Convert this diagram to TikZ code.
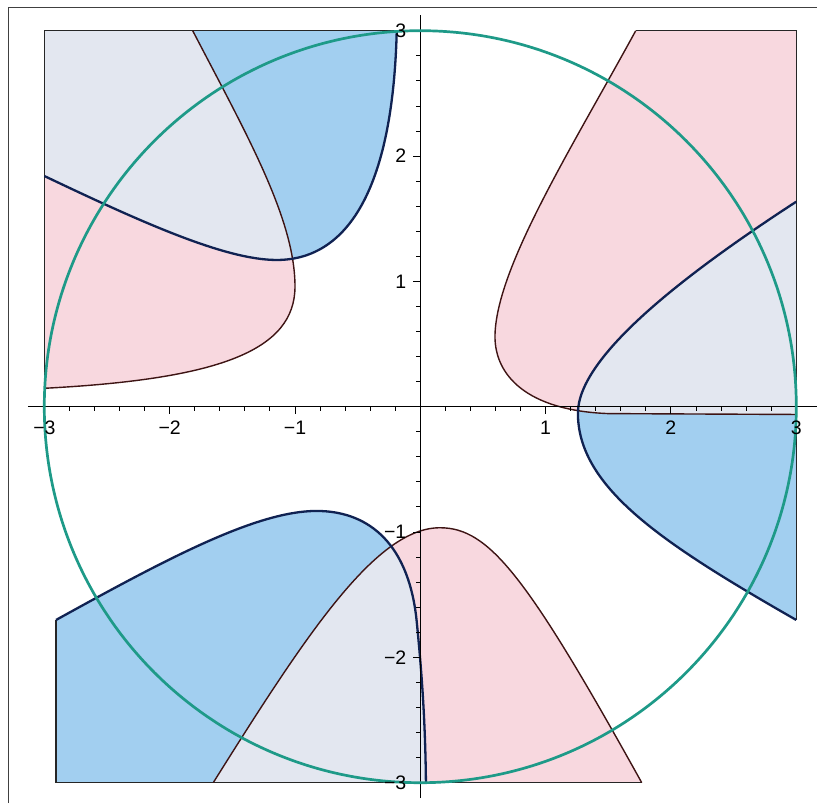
\documentclass[tikz,border=0pt]{standalone}
\usepackage{fontspec}
\setmainfont{Liberation Sans}
\definecolor{pinkfill}{HTML}{F8D8DF}
\definecolor{bluefill}{HTML}{A2CFF0}
\definecolor{greyfill}{HTML}{E3E7F0}
\definecolor{pinkline}{HTML}{3E1414}
\definecolor{blueline}{HTML}{102252}
\definecolor{circ}{HTML}{1E9A88}
\newcommand\PinkTL{(-1.816,3) .. controls (-1.39,2.18) and (-1.0,1.5) .. (-1.0,0.96) .. controls (-1.0,0.45) and (-1.6,0.22) .. (-3,0.147)}
\newcommand\BlueTL{(-3,1.841) .. controls (-2.2,1.46) and (-1.55,1.171) .. (-1.146,1.171) .. controls (-0.6,1.171) and (-0.22,1.7) .. (-0.188,3)}
\newcommand\PinkQ{(1.719,3) .. controls (1.2,2.05) and (0.6,1.1) .. (0.596,0.56) .. controls (0.596,0.25) and (0.85,-0.03) .. (1.5,-0.055) -- (3,-0.062)}
\newcommand\BlueQ{(3,1.636) .. controls (2.1,1.05) and (1.26,0.4) .. (1.258,-0.05) .. controls (1.256,-0.65) and (1.95,-1.1) .. (3,-1.702)}
\newcommand\PinkB{(-1.652,-3) .. controls (-0.9,-1.8) and (-0.35,-0.966) .. (0.157,-0.966) .. controls (0.55,-0.966) and (0.85,-1.35) .. (1.767,-3)}
\newcommand\BlueB{(-2.907,-1.702) .. controls (-2.0,-1.2) and (-1.3,-0.832) .. (-0.827,-0.832) .. controls (-0.45,-0.832) and (-0.1,-1.05) .. (-0.03,-1.7) .. controls (0.01,-2.1) and (0.04,-2.5) .. (0.045,-3)}
\begin{document}
\begin{tikzpicture}[x=125.3pt,y=125.3pt,
  pinkedge/.style={draw=pinkline,line width=1.4pt},
  blueedge/.style={draw=blueline,line width=2.3pt},
  boxedge/.style={draw=black!85,line width=1.1pt},
  axisline/.style={draw=black,line width=1.4pt},
  ticklabel/.style={font=\fontsize{19.5}{19.5}\selectfont,inner sep=0pt}]
\useasboundingbox (-3.3543,-3.1628) rectangle (3.1660,3.2458);
% outer frame
\draw[line width=1pt,black!75] (-3.2825,-3.1628) -- (-3.2825,3.182) -- (3.166,3.182);
% ---------- top-left ----------
\fill[pinkfill] \PinkTL -- (-3,3) -- cycle;
\fill[bluefill] \BlueTL -- (-3,3) -- cycle;
\begin{scope}
  \clip \PinkTL -- (-3,3) -- cycle;
  \fill[greyfill] \BlueTL -- (-3,3) -- cycle;
\end{scope}
% ---------- first quadrant ----------
\fill[pinkfill] \PinkQ -- (3,3) -- cycle;
\fill[bluefill] \BlueQ -- cycle;
\begin{scope}
  \clip \PinkQ -- (3,3) -- cycle;
  \fill[greyfill] \BlueQ -- cycle;
\end{scope}
% ---------- bottom ----------
\fill[pinkfill] \PinkB -- cycle;
\fill[bluefill] \BlueB -- (-2.907,-3) -- cycle;
\begin{scope}
  \clip \PinkB -- cycle;
  \fill[greyfill] \BlueB -- (-2.907,-3) -- cycle;
\end{scope}
% box edges
\draw[boxedge] (-3,0.147) -- (-3,3) -- (-0.188,3);
\draw[boxedge] (1.719,3) -- (3,3) -- (3,-1.702);
\draw[boxedge] (-2.907,-1.702) -- (-2.907,-3) -- (1.767,-3);
% curves
\draw[pinkedge] \PinkTL;
\draw[pinkedge] \PinkQ;
\draw[pinkedge] \PinkB;
\draw[blueedge] \BlueTL;
\draw[blueedge] \BlueQ;
\draw[blueedge] \BlueB;
% axes
\coordinate (xl) at (-3.132,0);
\coordinate (xr) at (3.166,0);
\coordinate (yb) at (0,-3.123);
\coordinate (yt) at (0,3.126);
\draw[axisline] (xl) -- (xr);
\draw[axisline] (yb) -- (yt);
\foreach \k in {-15,...,15}{
  \draw[line width=0.9pt] (\k/5,0) -- (\k/5,-0.032);
  \draw[line width=0.9pt] (0,\k/5) -- (-0.032,\k/5);
}
\foreach \k in {-3,-2,-1,1,2,3}{
  \draw[line width=0.9pt] (\k,0) -- (\k,-0.058);
  \draw[line width=0.9pt] (0,\k) -- (-0.058,\k);
}
% circle
\node[circle,draw=circ,line width=2.7pt,minimum size=752pt,inner sep=0pt] (ring) at (0,0) {};
% labels
\node[ticklabel,anchor=north] (lxm3) at (-3,-0.11) {−3};
\node[ticklabel,anchor=north] (lxm2) at (-2,-0.11) {−2};
\node[ticklabel,anchor=north] (lxm1) at (-1,-0.11) {−1};
\node[ticklabel,anchor=north] (lx1) at (1,-0.11) {1};
\node[ticklabel,anchor=north] (lx2) at (2,-0.11) {2};
\node[ticklabel,anchor=north] (lx3) at (3,-0.11) {3};
\node[ticklabel,anchor=east] (ly3) at (-0.11,3) {3};
\node[ticklabel,anchor=east] (ly2) at (-0.11,2) {2};
\node[ticklabel,anchor=east] (ly1) at (-0.11,1) {1};
\node[ticklabel,anchor=east] (lym1) at (-0.11,-1) {−1};
\node[ticklabel,anchor=east] (lym2) at (-0.11,-2) {−2};
\node[ticklabel,anchor=east] (lym3) at (-0.11,-3) {−3};
\end{tikzpicture}
\end{document}
